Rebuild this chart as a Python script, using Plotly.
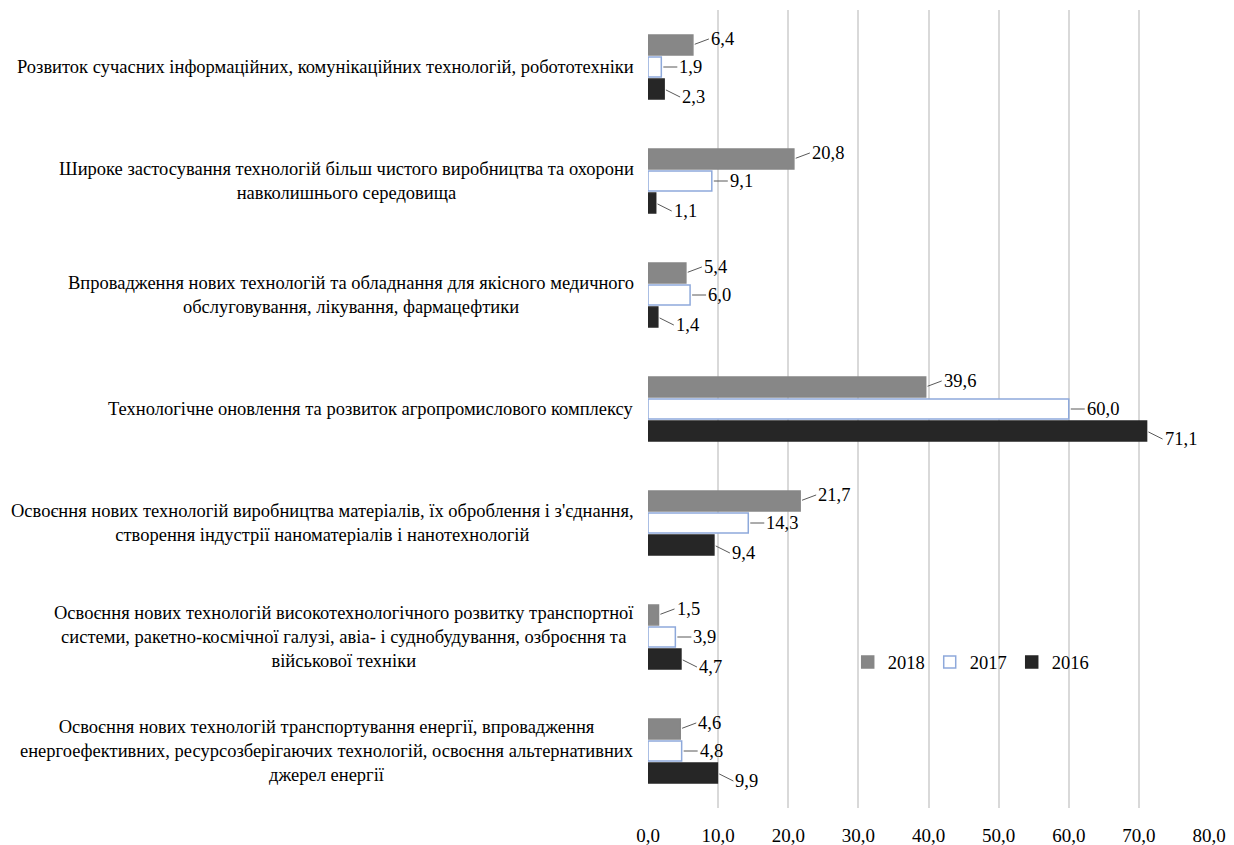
import plotly.graph_objects as go

categories = [
    "Розвиток сучасних інформаційних, комунікаційних технологій, робототехніки",
    "Широке застосування технологій більш чистого виробництва та охорони<br>навколишнього середовища",
    "Впровадження нових технологій та обладнання для якісного медичного<br>обслуговування, лікування, фармацефтики",
    "Технологічне оновлення та розвиток агропромислового комплексу",
    "Освоєння нових технологій виробництва матеріалів, їх оброблення і з'єднання,<br>створення індустрії наноматеріалів і нанотехнологій",
    "Освоєння нових технологій високотехнологічного розвитку транспортної<br>системи, ракетно-космічної галузі, авіа- і суднобудування, озброєння та<br>військової техніки",
    "Освоєння нових технологій транспортування енергії, впровадження<br>енергоефективних, ресурсозберігаючих технологій, освоєння альтернативних<br>джерел енергії",
]
values_2018 = [6.4, 20.8, 5.4, 39.6, 21.7, 1.5, 4.6]
values_2017 = [1.9, 9.1, 6.0, 60.0, 14.3, 3.9, 4.8]
values_2016 = [2.3, 1.1, 1.4, 71.1, 9.4, 4.7, 9.9]
series_names = ["2018", "2017", "2016"]
x_ticks = [0, 10, 20, 30, 40, 50, 60, 70, 80]

FONT = "Liberation Serif, Times New Roman, serif"
FS = 18.5
BARGAP = 0.42
BARGROUPGAP = 0.1

styles = [
    dict(fill="#878787", line="#878787", ay=-6),
    dict(fill="#ffffff", line="#8EA9DB", ay=0),
    dict(fill="#262626", line="#262626", ay=8),
]

def fmt(v):
    return f"{v:.1f}".replace(".", ",")

fig = go.Figure()
all_vals = [values_2018, values_2017, values_2016]
for name, vals, st in zip(series_names, all_vals, styles):
    fig.add_trace(go.Bar(
        y=categories, x=vals, name=name, orientation="h",
        marker=dict(color=st["fill"], line=dict(color=st["line"], width=1.5)),
    ))

slot = (1 - BARGAP) / 3
annotations = []
for k, (vals, st) in enumerate(zip(all_vals, styles)):
    off = (k - 1) * slot
    for i, v in enumerate(vals):
        annotations.append(dict(
            x=v, y=i + off, xref="x", yref="y", text=fmt(v),
            showarrow=True, arrowhead=0, arrowwidth=1, arrowcolor="#595959",
            ax=16, ay=st["ay"], xanchor="left", standoff=2,
            font=dict(family=FONT, size=FS, color="#000"),
        ))

for c in categories:
    annotations.append(dict(
        x=0, y=c, xref="paper", yref="y", text=c, showarrow=False,
        xanchor="right", align="center", xshift=-12,
        font=dict(family=FONT, size=FS, color="#000"),
    ))

fig.update_layout(
    width=1234, height=845,
    margin=dict(l=640, r=33, t=2, b=45),
    barmode="group", bargap=BARGAP, bargroupgap=BARGROUPGAP,
    plot_bgcolor="white", paper_bgcolor="white",
    font=dict(family=FONT, size=FS, color="#000"),
    annotations=annotations,
    legend=dict(orientation="h", x=0.356, y=0.1825, xanchor="left", yanchor="middle",
                bgcolor="rgba(0,0,0,0)", font=dict(family=FONT, size=FS),
                itemwidth=30, tracegroupgap=0),
    xaxis=dict(range=[0, 80], tickvals=x_ticks, ticktext=[fmt(t) for t in x_ticks],
               showgrid=True, gridcolor="#D9D9D9", gridwidth=1.5, zeroline=False,
               showline=False, ticks="", ticklabelstandoff=14,
               tickfont=dict(family=FONT, size=19)),
    yaxis=dict(autorange="reversed", showticklabels=False, showgrid=False,
               zeroline=False, showline=False, ticks=""),
    showlegend=True,
)

fig.write_html("out.html")
